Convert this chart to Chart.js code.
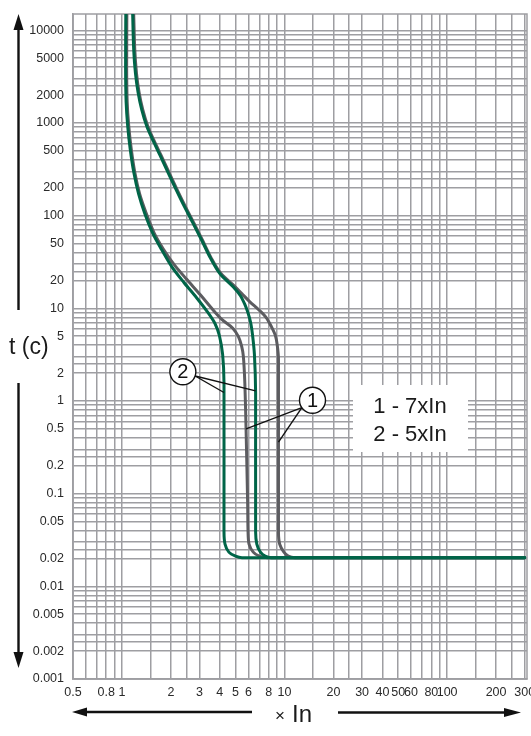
<!DOCTYPE html>
<html>
<head>
<meta charset="utf-8">
<script src="https://cdn.jsdelivr.net/npm/chart.js@4.4.1/dist/chart.umd.min.js"></script>
<style>
  html, body { margin: 0; padding: 0; background: #fff; }
  #wrap { width: 531px; height: 736px; }
</style>
</head>
<body>
<div id="wrap"><canvas id="chart" width="531" height="736"></canvas></div>
<script>
// Tick labels shown on the axes
const xTickLabels = [0.5, 0.8, 1, 2, 3, 4, 5, 6, 8, 10, 20, 30, 40, 50, 60, 80, 100, 200, 300];
const yTickLabels = [0.001, 0.002, 0.005, 0.01, 0.02, 0.05, 0.1, 0.2, 0.5, 1, 2, 5, 10, 20, 50,
                     100, 200, 500, 1000, 2000, 5000, 10000];
// grid line steps inside every decade
const xGridSteps = [1, 1.5, 2, 2.5, 3, 4, 5, 6, 7, 8, 9];
const yGridSteps = [1, 2, 2.5, 3, 4, 5, 6, 7, 8, 9];

// Curve 2 (5xIn) - green pair, x = multiple of In, t = seconds
const curve2LowX  = [1.056, 1.053, 1.061, 1.0845, 1.125, 1.185, 1.266, 1.383, 1.545, 1.752, 2.028, 2.399, 2.877,
                     3.366, 3.734, 3.977, 4.163, 4.243, 4.243, 4.305, 4.545, 5.0, 5.477, 300];
const curve2LowT  = [15000, 3870, 1686, 932, 518, 288, 171.7, 104.8, 64.9, 43.2, 28.05, 19.11, 13.02,
                     9.10, 6.866, 5.06, 3.162, 1.563, 0.0386, 0.0286, 0.0234, 0.0212, 0.0204, 0.0204];
const curve2HighX = [1.164, 1.181, 1.211, 1.257, 1.323, 1.425, 1.557, 1.713, 1.928, 2.175, 2.432, 2.739, 3.105,
                     3.504, 4.0, 4.843, 5.354, 5.70, 5.966, 6.206, 6.365, 6.529, 6.64, 6.64, 6.754, 7.107, 7.604, 8.279, 300];
const curve2HighT = [15000, 6221, 3437, 2137, 1394, 910, 640, 450, 288, 184.2, 123.5, 82.5, 53.6,
                     34.8, 23.71, 16.96, 13.66, 11.01, 8.89, 6.866, 5.06, 3.162, 1.235, 0.0386, 0.0286, 0.0234, 0.0212, 0.0204, 0.0204];

// Curve 1 (7xIn) - gray pair
const curve1LowX  = [1.072, 1.069, 1.077, 1.101, 1.142, 1.202, 1.285, 1.414, 1.579, 1.804, 2.101, 2.502, 3.035,
                     3.565, 4.130, 4.805, 5.204, 5.446, 5.584, 5.70, 5.799, 5.932, 5.966, 6.049, 6.421, 6.989, 7.866, 300];
const curve1LowT  = [15000, 3870, 1686, 932, 518, 288, 171.7, 104.8, 64.9, 43.2, 29.43, 20.54, 13.99,
                     10.0, 7.544, 6.105, 4.941, 3.906, 3.017, 1.563, 0.5056, 0.0779, 0.0386, 0.0286, 0.0234, 0.0212, 0.0204, 0.0204];
const curve1HighX = [1.181, 1.199, 1.229, 1.275, 1.343, 1.446, 1.579, 1.739, 1.957, 2.206, 2.467, 2.778, 3.141,
                     3.545, 4.064, 4.920, 5.477, 6.101, 6.989, 7.734, 8.279, 8.794, 9.022, 9.178, 9.178, 9.336, 9.914, 10.55, 11.58, 300];
const curve1HighT = [15000, 6221, 3437, 2137, 1394, 910, 640, 450, 288, 184.2, 123.5, 82.5, 53.6,
                     34.8, 23.71, 17.36, 14.33, 11.83, 9.541, 7.906, 6.40, 5.06, 4.0, 2.812, 0.0386, 0.0286, 0.0234, 0.0212, 0.0204, 0.0204];

// Callouts: circle position and the curve points the leaders go to (x, t)
const calloutTexts   = ['2', '1'];
const calloutCenter  = [[2.37, 2.07], [14.86, 1.02]];
const calloutTargets = [[[4.243, 1.235], [6.64, 1.286]], [[5.80, 0.501], [9.178, 0.36]]];

const legendLines = ['1 - 7xIn', '2 - 5xIn'];

const GREEN = 'rgb(0, 101, 72)';
const GRAY = 'rgb(92, 92, 96)';
const GRID = 'rgb(158, 158, 162)';
const TEXT = '#2a2a2a';
const FONT = '"Liberation Sans", Arial, sans-serif';

function gridValues(steps, min, max) {
    const out = [];
    for (let e = -4; e <= 4; e++) {
        for (const m of steps) {
            const v = Number((m * Math.pow(10, e)).toPrecision(6));
            if (v >= min * 0.999999 && v <= max * 1.000001) out.push(v);
        }
    }
    return out;
}

const xGrid = gridValues(xGridSteps, 0.5, 300);
const yGrid = gridValues(yGridSteps, 0.001, 10000);

const labelFor = (v, list) => list.some(l => Math.abs(l - v) / l < 1e-6) ? String(v) : '';
const toPoints = (xs, ts) => xs.map((v, i) => ({ x: v, y: ts[i] }));

const lineStyle = (color) => ({
    borderColor: color,
    backgroundColor: 'transparent',
    borderWidth: 3,
    pointRadius: 0,
    tension: 0.3,
    fill: false,
    borderJoinStyle: 'round',
    borderCapStyle: 'round'
});

function arrow(ctx, x1, y1, x2, y2, head, half) {
    const ang = Math.atan2(y2 - y1, x2 - x1);
    const bx = x2 - head * Math.cos(ang), by = y2 - head * Math.sin(ang);
    ctx.beginPath();
    ctx.moveTo(x1, y1);
    ctx.lineTo(bx, by);
    ctx.stroke();
    ctx.beginPath();
    ctx.moveTo(x2, y2);
    ctx.lineTo(bx + half * Math.sin(ang), by - half * Math.cos(ang));
    ctx.lineTo(bx - half * Math.sin(ang), by + half * Math.cos(ang));
    ctx.closePath();
    ctx.fill();
}

const annotations = {
    id: 'annotations',
    beforeDatasetsDraw(chart) {
        const { ctx, chartArea: a } = chart;
        ctx.save();
        ctx.strokeStyle = GRID;
        ctx.lineWidth = 1.5;
        ctx.strokeRect(a.left, a.top, a.right - a.left, a.bottom - a.top);
        ctx.restore();
    },
    afterDatasetsDraw(chart) {
        const { ctx, scales: { x, y } } = chart;
        const px = (p) => [x.getPixelForValue(p[0]), y.getPixelForValue(p[1])];
        const R = 13;
        ctx.save();

        // numbered callouts
        calloutTexts.forEach((txt, i) => {
            const [cx, cy] = px(calloutCenter[i]);
            const ends = calloutTargets[i].map(px);
            const mx = ends.reduce((s, e) => s + e[0], 0) / ends.length;
            const my = ends.reduce((s, e) => s + e[1], 0) / ends.length;
            const ang = Math.atan2(my - cy, mx - cx);
            const sx = cx + R * Math.cos(ang), sy = cy + R * Math.sin(ang);
            ctx.strokeStyle = '#111';
            ctx.lineWidth = 1.4;
            ends.forEach(e => {
                ctx.beginPath();
                ctx.moveTo(sx, sy);
                ctx.lineTo(e[0], e[1]);
                ctx.stroke();
            });
            ctx.beginPath();
            ctx.arc(cx, cy, R, 0, Math.PI * 2);
            ctx.fillStyle = '#fff';
            ctx.fill();
            ctx.stroke();
            ctx.fillStyle = '#111';
            ctx.font = '20px ' + FONT;
            ctx.textAlign = 'center';
            ctx.textBaseline = 'middle';
            ctx.fillText(txt, cx, cy + 1);
        });

        // legend box
        ctx.fillStyle = '#fff';
        ctx.fillRect(353, 385, 115, 67);
        ctx.fillStyle = '#1a1a1a';
        ctx.font = '22px ' + FONT;
        ctx.textAlign = 'center';
        ctx.textBaseline = 'middle';
        legendLines.forEach((t, i) => ctx.fillText(t, 410, 407 + i * 28));

        // axis arrows
        ctx.strokeStyle = '#111';
        ctx.fillStyle = '#111';
        ctx.lineWidth = 2.4;
        arrow(ctx, 18.5, 310, 18.5, 14, 16, 5);
        arrow(ctx, 18.5, 383, 18.5, 668, 16, 5);
        arrow(ctx, 252, 712, 72, 712, 15, 4.5);
        arrow(ctx, 338, 712.5, 521, 712.5, 17, 4.5);

        // axis titles
        ctx.fillStyle = '#1a1a1a';
        ctx.textAlign = 'left';
        ctx.textBaseline = 'middle';
        ctx.font = '23px ' + FONT;
        ctx.fillText('t (c)', 9, 348);
        ctx.font = '17px ' + FONT;
        ctx.textAlign = 'center';
        ctx.fillText('\u00d7', 280, 716);
        ctx.font = '24px ' + FONT;
        ctx.textAlign = 'left';
        ctx.fillText('In', 292, 715);
        ctx.restore();
    }
};

new Chart(document.getElementById('chart'), {
    type: 'line',
    data: {
        datasets: [
            { label: '2 - 5xIn (min)', data: toPoints(curve2LowX, curve2LowT), ...lineStyle(GREEN) },
            { label: '2 - 5xIn (max)', data: toPoints(curve2HighX, curve2HighT), ...lineStyle(GREEN) },
            { label: '1 - 7xIn (min)', data: toPoints(curve1LowX, curve1LowT), ...lineStyle(GRAY) },
            { label: '1 - 7xIn (max)', data: toPoints(curve1HighX, curve1HighT), ...lineStyle(GRAY) }
        ]
    },
    options: {
        responsive: false,
        animation: false,
        devicePixelRatio: 1,
        layout: { padding: { top: 14, right: 4, left: 0, bottom: 0 } },
        scales: {
            x: {
                type: 'logarithmic',
                position: 'bottom',
                min: 0.5,
                max: 310,
                afterBuildTicks: (s) => { s.ticks = xGrid.map(v => ({ value: v })); },
                afterFit: (s) => { s.height = 57; s.paddingLeft = 0; s.paddingRight = 0; },
                grid: { color: GRID, lineWidth: 1.5, drawTicks: false },
                border: { color: GRID, width: 1.5 },
                ticks: {
                    autoSkip: false,
                    maxRotation: 0,
                    minRotation: 0,
                    padding: 6,
                    color: TEXT,
                    font: { family: FONT, size: 12.5 },
                    callback: (v) => labelFor(v, xTickLabels)
                }
            },
            y: {
                type: 'logarithmic',
                position: 'left',
                min: 0.001,
                max: 15000,
                afterBuildTicks: (s) => { s.ticks = yGrid.map(v => ({ value: v })); },
                afterFit: (s) => { s.width = 73; s.paddingTop = 0; s.paddingBottom = 0; },
                grid: { color: GRID, lineWidth: 1.5, drawTicks: false },
                border: { color: GRID, width: 1.5 },
                ticks: {
                    autoSkip: false,
                    padding: 9,
                    color: TEXT,
                    font: { family: FONT, size: 12.5 },
                    callback: (v) => labelFor(v, yTickLabels)
                }
            }
        },
        plugins: {
            legend: { display: false },
            tooltip: { enabled: false }
        }
    },
    plugins: [annotations]
});
</script>
</body>
</html>
